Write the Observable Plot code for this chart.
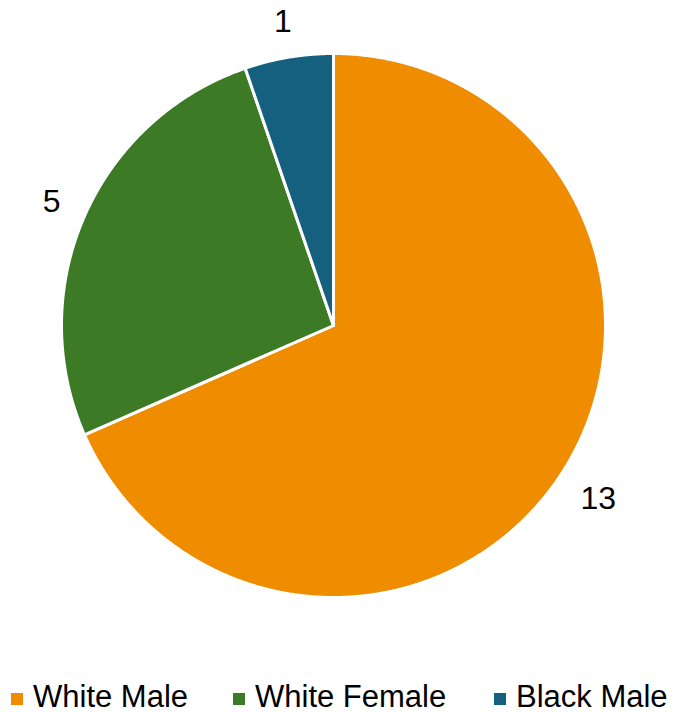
<!DOCTYPE html>
<html>
<head>
<meta charset="utf-8">
<script src="https://cdn.jsdelivr.net/npm/d3@7"></script>
<script src="https://cdn.jsdelivr.net/npm/@observablehq/plot@0.6"></script>
<style>
  html, body { margin: 0; padding: 0; background: #fff; }
  body { width: 674px; height: 713px; overflow: hidden; font-family: "Liberation Sans", Arial, sans-serif; }
  #legend { position: relative; height: 47px; font-size: 31px; color: #000; white-space: nowrap; }
  .item { position: absolute; top: 13px; display: flex; align-items: center; line-height: 36px; }
  .sw { width: 12px; height: 12px; margin-right: 10px; margin-top: 4px; }
</style>
</head>
<body>
<div id="chart"></div>
<div id="legend"></div>
<script>
const categories = ["White Male", "White Female", "Black Male"];
const values = [13, 5, 1];
const colors = ["#F08C00", "#3C7A26", "#16607F"];

const W = 674, H = 666;
const cx = 333, cy = 325, R = 272;
const fontSize = 32;

const pie = d3.pie().sort(null).value(d => d.value);
const data = categories.map((c, i) => ({category: c, value: values[i]}));
const arcs = pie(data);

// slice polygons in unit coordinates (radius 1), angle clockwise from top
const slicePts = [];
arcs.forEach(a => {
  const n = Math.max(8, Math.ceil((a.endAngle - a.startAngle) / 0.005));
  slicePts.push({category: a.data.category, x: 0, y: 0});
  for (let k = 0; k <= n; k++) {
    const t = a.startAngle + (a.endAngle - a.startAngle) * k / n;
    slicePts.push({category: a.data.category, x: Math.sin(t), y: Math.cos(t)});
  }
  slicePts.push({category: a.data.category, x: 0, y: 0});
});

// labels outside end
const labels = arcs.map(a => {
  const m = (a.startAngle + a.endAngle) / 2;
  const dx = Math.sin(m), dy = Math.cos(m);
  const txt = String(a.data.value);
  const hw = txt.length * 0.556 * fontSize / 2, hh = 0.72 * fontSize / 2;
  const ext = hw * Math.abs(dx) + hh * Math.abs(dy);
  const r = 1 + (23 + ext) / R;
  return {text: txt, x: dx * r, y: dy * r};
});

const chart = Plot.plot({
  width: W,
  height: H,
  margin: 0,
  x: {domain: [-cx / R, (W - cx) / R], range: [0, W], axis: null},
  y: {domain: [-(H - cy) / R, cy / R], range: [H, 0], axis: null},
  color: {domain: categories, range: colors},
  style: {fontFamily: "Liberation Sans, Arial, sans-serif", background: "#fff"},
  marks: [
    Plot.line(slicePts, {x: "x", y: "y", z: "category", fill: "category", stroke: "#fff", strokeWidth: 3, strokeLinejoin: "round", curve: "linear"}),
    Plot.text(labels, {x: "x", y: "y", text: "text", fontSize: fontSize, fill: "#000", textAnchor: "middle", lineAnchor: "middle"})
  ]
});
document.getElementById("chart").appendChild(chart);

const legendLeft = [11, 233, 494];
const legend = document.getElementById("legend");
categories.forEach((c, i) => {
  const it = document.createElement("div");
  it.className = "item";
  it.style.left = legendLeft[i] + "px";
  const sw = document.createElement("div");
  sw.className = "sw";
  sw.style.background = colors[i];
  const lb = document.createElement("span");
  lb.textContent = c;
  it.appendChild(sw);
  it.appendChild(lb);
  legend.appendChild(it);
});
</script>
</body>
</html>
